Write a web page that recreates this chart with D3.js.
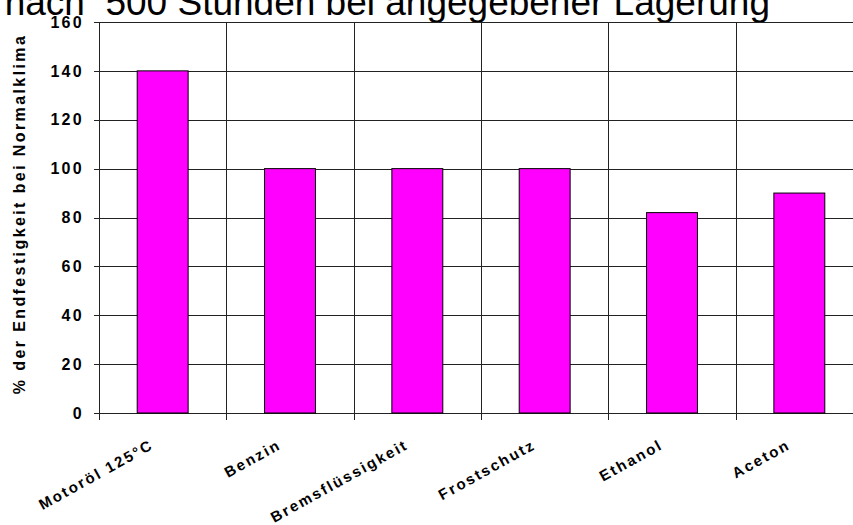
<!DOCTYPE html>
<meta charset="utf-8">
<style>
  body { margin: 0; background: #fff; }
  svg { display: block; font-family: Arial, "Liberation Sans", sans-serif; }
  .grid line { stroke: #222; stroke-width: 1px; shape-rendering: crispEdges; }
  .axis path { display: none; }
  .axis line { stroke: #222; shape-rendering: crispEdges; }
  .axis text { font-size: 16px; font-weight: bold; fill: #000; letter-spacing: 2.3px; }
  .cat { font-size: 15px; font-weight: bold; letter-spacing: 2.1px; }
</style>
<body>
  <script src="https://d3js.org/d3.v7.min.js"></script>
  <script>
    // Werte nach 500 Stunden Lagerung (% der Endfestigkeit)
    var categories = ["Motoröl 125°C", "Benzin", "Bremsflüssigkeit", "Frostschutz", "Ethanol", "Aceton"];
    var values = [140, 100, 100, 100, 82, 90];
    var yTicks = [0, 20, 40, 60, 80, 100, 120, 140, 160];

    var width = 853, height = 525;

    var svg = d3.select("body").append("svg")
                .attr("width", width)
                .attr("height", height);

    var x = d3.scaleBand()
              .domain(categories)
              .range([99, 863])
              .padding(0);

    var y = d3.scaleLinear()
              .domain([0, 160])
              .range([413, 22]);

    // title, mostly cut off at top edge
    svg.append("text")
       .attr("x", 770)
       .attr("y", 15)
       .attr("text-anchor", "end")
       .style("font-size", "37px")
       .style("white-space", "pre")
       .text("nach  500 Stunden bei angegebener Lagerung");

    // horizontal grid
    svg.append("g").attr("class", "grid")
       .selectAll("line")
       .data(yTicks)
       .enter().append("line")
       .attr("x1", 94)
       .attr("x2", width)
       .attr("y1", function(d) { return Math.round(y(d)) + 0.5; })
       .attr("y2", function(d) { return Math.round(y(d)) + 0.5; });

    // vertical grid at category boundaries (with ticks below the axis)
    svg.append("g").attr("class", "grid")
       .selectAll("line")
       .data(categories)
       .enter().append("line")
       .attr("x1", function(d) { return Math.round(x(d)) + 0.5; })
       .attr("x2", function(d) { return Math.round(x(d)) + 0.5; })
       .attr("y1", y(160))
       .attr("y2", y(0) + 7);

    // bars
    svg.append("g")
       .selectAll("rect")
       .data(values)
       .enter().append("rect")
       .attr("x", function(d, i) { return x(categories[i]) + x.bandwidth() * 0.3; })
       .attr("width", x.bandwidth() * 0.4)
       .attr("y", function(d) { return y(d); })
       .attr("height", function(d) { return y(0) - y(d); })
       .attr("fill", "#ff00ff")
       .attr("stroke", "#000")
       .attr("stroke-width", 1);

    // y axis
    svg.append("g")
       .attr("class", "axis")
       .attr("transform", "translate(99,0)")
       .call(d3.axisLeft(y).tickValues(yTicks).tickSize(5).tickPadding(10));

    // category labels, rotated
    svg.append("g")
       .selectAll("text")
       .data(categories)
       .enter().append("text")
       .attr("class", "cat")
       .attr("text-anchor", "end")
       .attr("transform", function(d) {
         return "translate(" + (x(d) + x.bandwidth() / 2 - 8) + ",448) rotate(-29)";
       })
       .text(function(d) { return d; });

    // y axis title
    svg.append("text")
       .attr("transform", "translate(25,214) rotate(-90)")
       .attr("text-anchor", "middle")
       .style("font-size", "16px")
       .style("font-weight", "bold")
       .style("letter-spacing", "2.4px")
       .text("% der Endfestigkeit bei Normalklima");
  </script>
</body>
